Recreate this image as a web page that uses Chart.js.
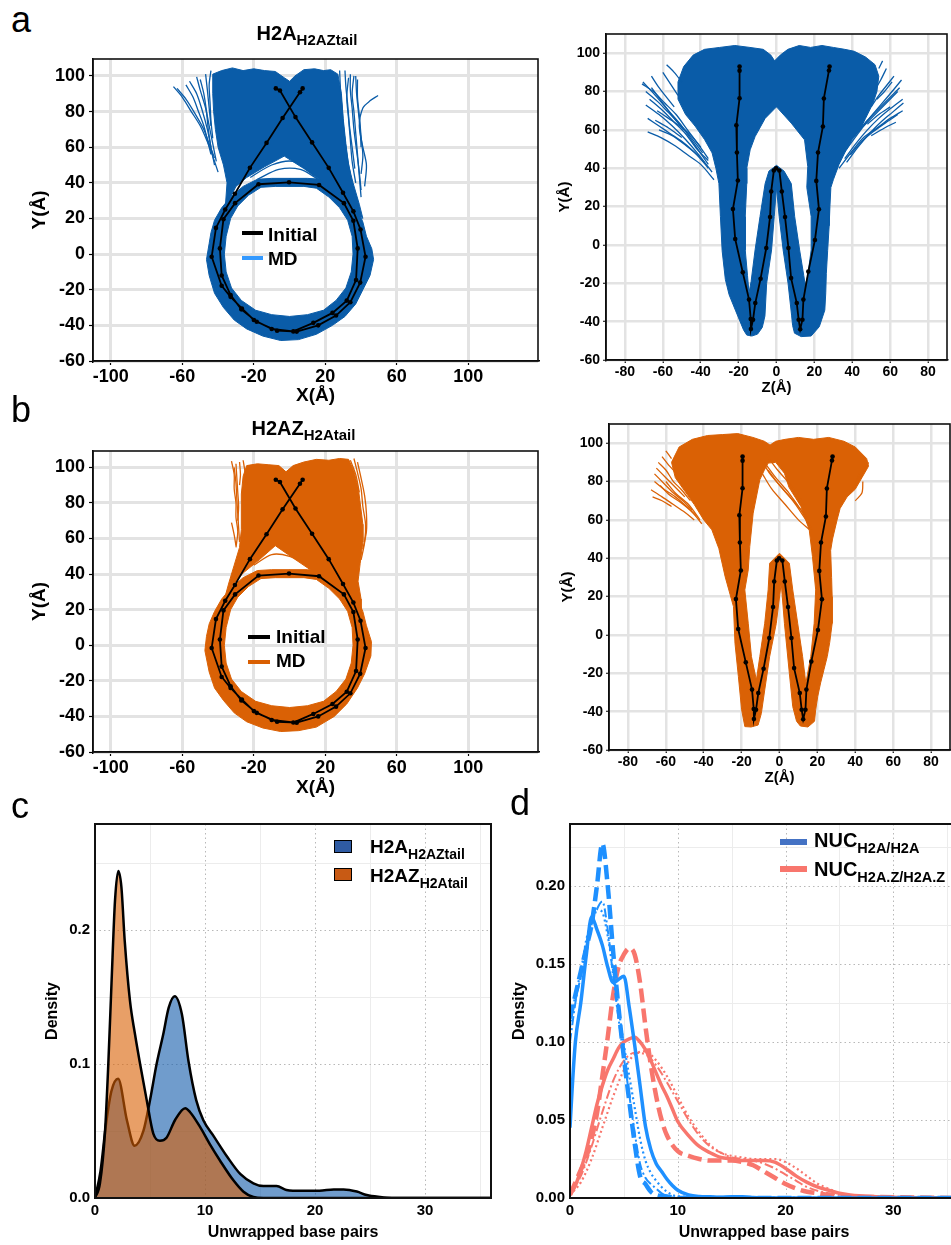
<!DOCTYPE html>
<html><head><meta charset="utf-8"><title>Nucleosome DNA trajectories and unwrapping</title>
<script src="https://cdn.jsdelivr.net/npm/chart.js@4.4.1/dist/chart.umd.min.js"></script>
<style>
html,body{margin:0;padding:0;background:#fff;}
body{position:relative;width:951px;height:1245px;overflow:hidden;font-family:'Liberation Sans',Arial,sans-serif;}
canvas{position:absolute;}
.t{position:absolute;white-space:nowrap;font-weight:bold;color:#000;line-height:1;}
.t .s{position:relative;}
.pl{position:absolute;font-family:'Liberation Sans',Arial,sans-serif;font-size:36px;line-height:1;color:#000;}
.ln{position:absolute;}
.pt{position:absolute;border:1.5px solid #000;box-sizing:border-box;}
</style></head><body>
<div class="pl" style="left:11px;top:2px">a</div>
<div class="pl" style="left:11px;top:392px">b</div>
<div class="pl" style="left:11px;top:788px">c</div>
<div class="pl" style="left:510px;top:785px">d</div>

<div class="t" style="left:0;width:614px;text-align:center;top:23px;font-size:20px">H2A<span class="s" style="font-size:15px;top:5px">H2AZtail</span></div>
<div class="t" style="left:0;width:607px;text-align:center;top:418px;font-size:20px">H2AZ<span class="s" style="font-size:15px;top:5px">H2Atail</span></div>

<div class="ln" style="left:242px;top:231px;width:21px;height:4px;background:#000"></div>
<div class="t" style="left:268px;top:225px;font-size:19px">Initial</div>
<div class="ln" style="left:242px;top:256px;width:21px;height:4px;background:#3399ff"></div>
<div class="t" style="left:268px;top:249px;font-size:19px">MD</div>

<div class="ln" style="left:248px;top:635px;width:22px;height:4px;background:#000"></div>
<div class="t" style="left:276px;top:627px;font-size:19px">Initial</div>
<div class="ln" style="left:248px;top:660px;width:22px;height:4px;background:#d95f02"></div>
<div class="t" style="left:276px;top:651px;font-size:19px">MD</div>

<div class="pt" style="left:334px;top:840px;width:18px;height:13px;background:#2f5ba3"></div>
<div class="t" style="left:370px;top:837px;font-size:19px">H2A<span class="s" style="font-size:14px;top:6px">H2AZtail</span></div>
<div class="pt" style="left:334px;top:868px;width:18px;height:13px;background:#c85a14"></div>
<div class="t" style="left:370px;top:866px;font-size:19px">H2AZ<span class="s" style="font-size:14px;top:6px">H2Atail</span></div>

<div class="ln" style="left:780px;top:839px;width:27px;height:6px;background:#4472c4"></div>
<div class="t" style="left:814px;top:830px;font-size:20px">NUC<span class="s" style="font-size:14.5px;top:6px">H2A/H2A</span></div>
<div class="ln" style="left:780px;top:866px;width:27px;height:6px;background:#f8766d"></div>
<div class="t" style="left:814px;top:859px;font-size:20px">NUC<span class="s" style="font-size:14.5px;top:6px">H2A.Z/H2A.Z</span></div>

<script>
// ---------------- tick labels ----------------
const xyXTicks = [-100,-60,-20,20,60,100];
const xyYTicks = [-60,-40,-20,0,20,40,60,80,100];
const zyXTicks = [-80,-60,-40,-20,0,20,40,60,80];
const zyYTicks = [-60,-40,-20,0,20,40,60,80,100];
const cXTicks = [0,10,20,30];
const cYTicks = [0,0.1,0.2];
const dXTicks = [0,10,20,30];
const dYTicks = [0,0.05,0.1,0.15,0.2];
const cdXMinor = [5,15,25,35];
const cYMinor = [0.05,0.15,0.25];
const dYMinor = [0.025,0.075,0.125,0.175,0.225];

// ---------------- initial DNA path (X,Y) and (Z,Y) ----------------
const initialXY = [[-7.7,93],[-5.4,91.8],[3.3,76.9],[12.6,62.7],[21.9,48.4],[29.9,34.4],[35.7,24],[39.7,13.8],[42.5,-1.5],[39.5,-16],[34,-27],[26,-34.5],[16,-40],[4,-43.5],[-7,-43],[-18.4,-38],[-27,-31],[-33,-23],[-38,-12],[-39,3.2],[-37,19.6],[-30.5,28.6],[-17.4,39.2],[-0.3,40.3],[16.5,38.8],[30.4,28.6],[35.7,18.7],[38.1,3.2],[37.2,-14.5],[32,-26.1],[24,-33],[13.3,-38.6],[2.1,-43.4],[-10,-42],[-20,-37],[-26.7,-30.5],[-33,-24],[-38,-17.8],[-43.6,-1.5],[-41.2,14.7],[-36,25],[-30.6,33.9],[-22.2,48.4],[-12.9,62.4],[-3.9,76.4],[5.8,90.8],[7.3,93]];
const initialZY = [[-19.5,93],[-19.5,90.9],[-19.5,76.5],[-21.2,62.4],[-20.9,48.2],[-20.4,33.6],[-23,18.7],[-21.8,3.1],[-17.8,-14.3],[-14.5,-28.5],[-13.6,-38.6],[-13.5,-43.8],[-12.4,-39],[-11.2,-30.3],[-8.4,-17.6],[-5.4,-1.6],[-3.4,14.6],[-2.8,27.9],[-1.4,38.8],[-0.2,40],[1.5,38.8],[2.8,27.9],[4.5,14.6],[6.3,-1.6],[7.7,-17.3],[10.7,-30.3],[11.7,-39],[12.5,-44],[13.7,-39],[14.2,-28.5],[16.8,-13.9],[20.3,2.6],[22.4,18.6],[21,33.4],[21.9,48.2],[24.5,61.8],[25,76.4],[27.7,91],[28,93]];

// ---------------- MD envelopes, panel a (H2A_H2AZtail) ----------------
const ringA_XY = [[0,42.5],[10,42.5],[18,42],[26,38],[33,32],[38,25],[41,18],[43,10],[46,3],[47,-3],[45,-12],[41,-20],[37,-28],[31,-35],[24,-40],[15,-45],[5,-48],[-5,-48.5],[-15,-46],[-24,-42],[-31,-37],[-37,-30],[-42,-22],[-45,-12],[-46.5,-3],[-45,6],[-44,12],[-42,19],[-38,26],[-33,32],[-26,38],[-18,42],[-10,42.5],[0,42.5],[0,38],[-8,38],[-16,37.5],[-23,33],[-29,27],[-33,20],[-35.5,10],[-36.5,0],[-35.5,-10],[-32.5,-19],[-27,-26],[-19,-31.5],[-10,-34],[0,-35],[10,-34],[19,-31.5],[26,-26],[31.5,-19],[34.5,-10],[35.5,0],[35,10],[32.5,19],[28,26],[22,32],[15,37],[8,38],[0,38]];
const fanA_XY = [[-36,26],[-35,40],[-37,50],[-40,60],[-41.5,70],[-42.5,80],[-43,90],[-43,101],[-38,103],[-32,104.5],[-26,103],[-20,104],[-14,103],[-8,102.5],[-3,99],[0,97],[3,100],[8,103.5],[14,104],[19,103],[23,103.5],[27,101],[29,90],[30,76],[31.5,62],[33,50],[35.5,40],[39,28],[41,20],[33,28],[25,35],[18,41],[8,48],[-3,55],[-14,49],[-24,43],[-30,38],[-33,32]];
const wispsA_XY = [
  [[-65,94],[-60,88],[-55,80],[-50,72],[-46,63],[-43,55],[-40,46]],
  [[-63,93],[-58,87],[-53,79],[-48,70],[-45,62],[-42,54]],
  [[-52,99.5],[-50,92],[-47,82],[-45,72],[-43,62],[-41,52]],
  [[-56,97],[-52,90],[-49,81],[-46,70],[-44,60]],
  [[-47,101],[-46,92],[-45,82],[-44,72]],
  [[-44,103],[-45,95],[-44.5,85],[-44,75],[-43,65]],
  [[-50,98],[-48,90],[-46.5,80],[-45.5,70],[-44,60],[-42,50]],
  [[-58,95],[-54,88],[-51,80],[-48,72],[-46,64],[-44,56]],
  [[28,103],[28.5,92],[29.5,80],[30.5,68],[32,56],[34,45]],
  [[31,103],[31.5,94],[32.5,84],[33.5,72],[35,60],[36.5,48]],
  [[34,101],[34,92],[35,82],[36,70],[37.5,58],[39,46],[40,36]],
  [[37,100],[37.5,90],[38.5,80],[39.5,70],[40,60]],
  [[33,99],[32,88],[33,76],[34,64],[35,52],[37,40]],
  [[36,100],[35,90],[36,80],[37,68],[38,56],[39,44],[40,32]],
  [[38,98],[38,88],[39,78],[40,66],[41,55],[40,45]],
  [[49.5,89],[45,86],[41,82],[39,72],[41,60],[43,50],[42,38]],
  [[-22,43],[-10,50],[2,52],[14,44]],
  [[-18,42],[-6,47.5],[6,47.5],[16,42]]
];

// ---------------- MD envelopes, panel b (H2AZ_H2Atail) ----------------
const ringB_XY = [[0,42.5],[10,42.5],[18,42],[26,38],[33,32],[38,26],[41,19],[43,11],[45.8,2],[45.5,-6],[42,-16],[38,-24],[32,-33],[25,-40],[15,-46],[5,-48],[-5,-48.5],[-15,-46.5],[-24,-43],[-31,-38],[-37,-31],[-42,-24],[-45,-15],[-47.4,-3],[-46.5,5],[-45,12],[-42,19],[-38,26],[-33,32],[-26,38],[-18,42],[-10,42.5],[0,42.5],[0,38],[-8,38],[-16,37.5],[-23,33],[-29,27],[-33,20],[-35.5,10],[-36.5,0],[-35.5,-10],[-32.5,-19],[-27,-26],[-19,-31.5],[-10,-34],[0,-35],[10,-34],[19,-31.5],[26,-26],[31.5,-19],[34.5,-10],[35.5,0],[35,10],[32.5,19],[28,26],[22,32],[15,37],[8,38],[0,38]];
const fanB_XY = [[-37,24],[-34,35],[-31,45],[-28,55],[-27,65],[-27,75],[-27,85],[-26,95],[-24,101],[-18,102],[-12,101.5],[-6,101],[-2,97.5],[2,101],[8,103],[15,104.5],[22,104],[28,105],[33,104.5],[36,98],[38.5,88],[39.5,80],[41,68],[41,58],[39.5,46],[38.3,36],[40,26],[40,20],[33,28],[24,35],[13,41.5],[2,49],[-8,56],[-17,48],[-26,40.6],[-31,35]];
const wispsB_XY = [
  [[-32.5,103.5],[-31,96],[-31,88],[-30,80],[-30,72],[-29,64],[-30,55]],
  [[-30,102],[-29.5,94],[-29,86],[-28.5,78],[-29,70]],
  [[-28,103],[-27.5,96],[-28,90]],
  [[-26,104],[-25,98],[-24,90]],
  [[-31,100],[-30,91],[-29.5,82],[-29,74],[-28.5,66],[-28,58]],
  [[-32.5,69],[-31,62],[-30,56]],
  [[36,105],[38,97],[40,88],[41,78],[42.5,68],[42,58],[40,48]],
  [[38,103],[40,94],[42,84],[43,74],[43,64],[41,54]],
  [[34,104],[37,96],[39,86]],
  [[-20,45],[-10,51],[0,50],[10,45]]
];

// ---------------- MD envelopes in the Z-Y plane ----------------
const bodyA_ZY = [[-1,96],[2,99],[6,102],[12,104],[18,103],[24,104],[30,103],[36,102],[41,101],[47,98],[52,94],[54,88],[53,80],[51,74],[47,66],[44,60],[40,55],[36,48],[33,42],[30,34],[28.7,30],[28.2,20],[27.8,10],[27,-3],[26.3,-15],[26,-25],[25.5,-34],[22.6,-42.6],[18.3,-47.5],[13,-47.8],[9.5,-46],[8.5,-42],[8,-37],[6.1,-20],[3.5,-2.6],[1.4,14.8],[0,30],[-1.2,14.8],[-2.6,-2.6],[-5.2,-20],[-6.1,-37],[-7.5,-43],[-10,-46.5],[-13,-47.5],[-15.7,-47],[-17.4,-44.3],[-21.7,-34],[-25,-26],[-27,-18],[-28.7,-3],[-29.6,14.8],[-30.4,32],[-32,40],[-34,48],[-38,55],[-43,62],[-48,68],[-52,76],[-52,85],[-49,93],[-44,99],[-38,102],[-30,103],[-22,104],[-14,103],[-7,102],[-3,99],[-1,96],
  [0,72],[-6,66],[-11.3,56.5],[-13.9,49.6],[-15.7,40],[-15.7,32],[-16.5,14.8],[-16.5,-2.6],[-15.3,-16],[-14.5,-25],[-13.4,-19],[-11.3,-2.6],[-8.7,14.8],[-6,32],[-4,38.5],[0,41.5],[4,38.5],[7.8,32],[9.6,14.8],[12.2,-2.6],[14.4,-16],[15.2,-21],[16.5,-16],[18.3,-2.6],[18.3,14.8],[16,30],[16.5,40.9],[14.8,54.8],[7.8,63.5],[0,72]];
const wispsA_ZY = [
  [[-70.5,85],[-64,78],[-57,70],[-50,62],[-43,52],[-36,42]],
  [[-69,73],[-62,68],[-55,62],[-48,55],[-41,47],[-34,38]],
  [[-68,59],[-61,56],[-54,52],[-47,47],[-40,42],[-33,34]],
  [[-66,82],[-60,74],[-54,66],[-49,60]],
  [[-64,65],[-57,61],[-50,56]],
  [[-60,90],[-56,84],[-52,78]],
  [[-58,94],[-54,90],[-50,85]],
  [[-67,76],[-60,70],[-54,64],[-48,58],[-42,50],[-36,44]],
  [[-62,60],[-55,57],[-48,52],[-42,47],[-36,40]],
  [[-71,84],[-65,80],[-59,74],[-53,68],[-47,60],[-41,52],[-36,45]],
  [[-69,80],[-63,75],[-57,69],[-51,63],[-45,56],[-39,48]],
  [[-68,66],[-62,62],[-56,58],[-50,54],[-44,49],[-38,43]],
  [[-66,88],[-62,82],[-58,77],[-54,72]],
  [[-63,70],[-57,66],[-51,62],[-45,57],[-40,51]],
  [[66,86],[61,80],[55,73],[49,66],[43,58],[37,50]],
  [[66.6,76],[60,71],[54,66],[48,60],[42,53],[36,45]],
  [[66.6,70],[60,66],[53,61],[46,56],[40,49],[33,40]],
  [[63,64],[57,61],[50,57]],
  [[61,85],[57,80],[53,76]],
  [[58,92],[55,86],[52,81]],
  [[64,80],[58,74],[52,68],[46,62],[40,56]],
  [[60,72],[54,68],[48,63]],
  [[56,96],[54,92]],
  [[67,74],[61,69],[55,64],[49,58],[43,51],[37,43]],
  [[65,82],[60,77],[54,71],[48,65],[42,58]],
  [[62,88],[58,83],[54,78],[50,72]],
  [[64,68],[58,64],[51,59],[45,54],[39,47]]
];
const bodyB_ZY = [[-5,99],[-2,101],[3,102],[10,103],[18,102],[26,103],[34,101],[40,98],[46,92],[47,88],[43.5,82],[40,76],[35.7,72],[32,66],[30.4,60],[28,50],[27,44],[27.5,30],[27.8,20],[27.8,6],[26.5,-4],[25.2,-11.3],[23.5,-18],[21.7,-25],[20.2,-32],[19.1,-39],[18.5,-45],[15,-48],[11,-47.5],[9,-45],[7,-37.4],[5.2,-20],[2.6,6],[0.9,27],[-1.7,6],[-5.2,-11.3],[-7.8,-28.7],[-9.6,-41],[-11.3,-47],[-15,-48],[-18.3,-47.8],[-20,-39],[-21.7,-21.7],[-23.5,-4.3],[-24.3,14.8],[-28.7,30.4],[-32,45],[-35.7,54.8],[-40,60],[-45,68],[-50,75],[-55,82],[-57,90],[-53,98],[-46,102],[-38,104],[-30,104.5],[-22,105],[-14,103],[-8,101],[-5,99],
  [-6,89.6],[-8,86],[-10.4,80.9],[-13.9,63.5],[-15.7,46],[-16.5,33.9],[-18.3,23.5],[-16.5,6.1],[-14.8,-11.3],[-12.2,-23.5],[-10.4,-11.3],[-7.8,6.1],[-6,23.5],[-5.2,37.4],[0,42.6],[5.2,37.4],[7,23.5],[9.6,6.1],[12.2,-11.3],[13.9,-25.2],[16.5,-11.3],[18.3,6.1],[19.1,23.5],[17.4,40.9],[15.7,54.8],[11.3,67],[5,77],[2.6,84.3],[-2,90],[-6,89.6]];
const wispsB_ZY = [
  [[-67.8,75.7],[-62,72],[-56,68],[-50,64],[-45,60]],
  [[-65,87],[-60,82],[-55,77],[-50,72]],
  [[-62,93],[-58,88],[-54,84]],
  [[-60,80],[-55,74],[-48,68],[-42,60]],
  [[-64,90],[-60,86],[-56,80],[-52,76],[-47,70]],
  [[-66,80],[-61,76],[-55,72],[-49,67],[-44,62]],
  [[-60,96],[-57,92]],
  [[-66,84],[-61,79],[-56,74],[-51,70],[-46,65]],
  [[-63,78],[-58,73],[-52,69],[-46,64],[-41,58]],
  [[-67,72],[-62,70],[-57,67]],
  [[-8,90],[-2,82],[5,74],[12,64],[16,56]],
  [[-6,86],[0,78],[7,70],[14,60]],
  [[-9,84],[-4,76],[3,68],[10,60],[15.7,55]],
  [[-10,92],[-5,84],[2,76],[9,68],[14,62],[17,55]],
  [[-7,94],[-1,86],[6,78],[13,68]],
  [[46,91],[44,86],[41,80],[37,74]],
  [[44,80],[43.5,74],[40,70]],
  [[47,90],[45,86],[43,82]],
  [[42,84],[40,78],[37,74]]
];

// ---------------- panel c: density of unwrapped base pairs ----------------
const cH2A_x = [0,0.5,1,1.5,2.1,2.9,3.6,4.4,5,5.6,6.2,6.7,7.25,7.9,8.5,9.2,9.85,10.8,12,13.2,14.4,15.3,16.5,17.4,18,19.2,20.4,21.7,22.6,23.8,24.7,25.9,27,28,36];
const cH2A_y = [0,0.02,0.055,0.08,0.089,0.058,0.039,0.05,0.073,0.1,0.122,0.142,0.1505,0.137,0.102,0.073,0.058,0.046,0.031,0.018,0.011,0.009,0.0089,0.006,0.0055,0.0055,0.0055,0.0064,0.0064,0.0048,0.0022,0.0007,0,0,0];
const cH2AZ_x = [0,0.45,0.9,1.2,1.5,1.82,2.12,2.4,2.7,3.18,3.64,4.1,4.7,5.3,5.9,6.5,7.27,8.2,8.65,9.55,10.45,11.36,12.6,13.5,14.4,15.3,36];
const cH2AZ_y = [0,0.011,0.048,0.098,0.16,0.222,0.244,0.232,0.192,0.147,0.122,0.1,0.073,0.048,0.0427,0.045,0.058,0.067,0.064,0.053,0.04,0.028,0.013,0.0047,0.0007,0,0];

// ---------------- panel d: four replicas per system ----------------
const dBlueSolid_x = [0,0.2,0.5,1,1.5,2,2.5,3,3.5,4,4.5,5,5.5,6,6.5,7,7.5,8,8.5,9,9.5,10,11,12,13,14,15,16,17,18,20,25,36];
const dBlueSolid_y = [0.045,0.07,0.1,0.125,0.155,0.18,0.172,0.162,0.148,0.138,0.14,0.142,0.122,0.098,0.072,0.046,0.031,0.022,0.017,0.012,0.008,0.005,0.002,0.001,0.0008,0.0005,0.0008,0.0008,0.0003,0.0001,0,0,0];
const dBlueDash_x = [0,0.5,1,1.5,2,2.5,3,3.5,4,4.5,5,5.5,6,6.5,7,7.5,8,9,10,36];
const dBlueDash_y = [0.115,0.13,0.145,0.16,0.175,0.2,0.227,0.2,0.158,0.122,0.09,0.062,0.035,0.014,0.009,0.004,0.002,0.001,0,0];
const dBlueDashDot_x = [0,0.5,1,1.5,2,2.5,3,3.5,4,4.5,5,5.5,6,6.5,7,7.5,8,8.5,9,10,36];
const dBlueDashDot_y = [0.1,0.125,0.142,0.16,0.175,0.185,0.19,0.172,0.142,0.115,0.09,0.066,0.042,0.022,0.013,0.009,0.006,0.003,0.001,0,0];
const dBlueDot_x = [0,0.5,1,1.5,2,2.5,3,3.5,4,4.5,5,5.5,6,6.5,7,7.5,8,8.5,9,10,36];
const dBlueDot_y = [0.11,0.13,0.145,0.165,0.178,0.185,0.183,0.168,0.146,0.122,0.098,0.078,0.058,0.038,0.024,0.016,0.011,0.007,0.004,0.001,0];
const dRedSolid_x = [0,0.5,1,1.5,2,2.5,3,3.5,4,4.5,5,5.5,6,6.5,7,7.5,8,8.5,9,9.5,10,11,12,13,14,15,16,17,18,19,20,21,22,23,24,25,26,28,30,36];
const dRedSolid_y = [0.002,0.008,0.018,0.03,0.045,0.06,0.072,0.082,0.089,0.096,0.1,0.102,0.103,0.1,0.095,0.088,0.08,0.072,0.065,0.057,0.049,0.04,0.033,0.029,0.026,0.025,0.024,0.024,0.024,0.023,0.019,0.014,0.01,0.007,0.005,0.003,0.002,0.001,0.0005,0];
const dRedDash_x = [0,0.5,1,1.5,2,2.5,3,3.5,4,4.5,5,5.5,6,6.5,7,7.5,8,8.5,9,10,11,12,13,14,15,16,17,18,19,20,21,22,23,24,26,30,36];
const dRedDash_y = [0.002,0.01,0.018,0.026,0.038,0.054,0.078,0.103,0.13,0.148,0.156,0.16,0.156,0.138,0.11,0.085,0.065,0.05,0.04,0.03,0.027,0.025,0.024,0.024,0.024,0.023,0.021,0.017,0.013,0.009,0.006,0.004,0.003,0.002,0.001,0.0005,0];
const dRedDashDot_x = [0,1,2,3,4,5,6,7,8,9,10,11,12,13,14,15,16,17,18,19,20,21,22,24,26,30,36];
const dRedDashDot_y = [0.003,0.014,0.033,0.055,0.075,0.088,0.093,0.092,0.085,0.074,0.062,0.05,0.04,0.033,0.029,0.026,0.025,0.024,0.022,0.019,0.015,0.011,0.007,0.003,0.0015,0.0005,0];
const dRedDot_x = [0,1,2,3,4,5,5.5,6,7,8,9,10,11,12,13,14,15,16,17,18,19,20,21,22,23,24,25,27,30,36];
const dRedDot_y = [0.002,0.01,0.025,0.045,0.065,0.082,0.088,0.092,0.094,0.088,0.078,0.065,0.052,0.042,0.034,0.029,0.027,0.026,0.025,0.025,0.025,0.023,0.019,0.014,0.009,0.006,0.003,0.001,0.0004,0];

// ---------------- helpers ----------------
const FONT = "'Liberation Sans', Arial, sans-serif";
Chart.defaults.font.family = FONT;
Chart.defaults.color = '#000';
const pts = a => a.map(p => ({x:p[0], y:p[1]}));
const zip = (xs, ys) => xs.map((x,i) => ({x, y:ys[i]}));

function mkCanvas(plot, m){
  const c = document.createElement('canvas');
  const x = plot.l - m.l, y = plot.t - m.t;
  const w = (plot.r - plot.l) + m.l + m.r, h = (plot.b - plot.t) + m.t + m.b;
  c.width = w; c.height = h;
  c.style.left = x + 'px'; c.style.top = y + 'px';
  c.style.width = w + 'px'; c.style.height = h + 'px';
  document.body.insertBefore(c, document.body.firstChild);
  return c;
}

const framePlugin = {
  id:'frame',
  afterDatasetsDraw(chart, args, o){
    const a = chart.chartArea, ctx = chart.ctx;
    ctx.save(); ctx.strokeStyle = '#111'; ctx.lineWidth = o.w || 1.5;
    ctx.strokeRect(a.left, a.top, a.right - a.left, a.bottom - a.top);
    ctx.restore();
  }
};
const cdGridPlugin = {
  id:'cdgrid',
  beforeDatasetsDraw(chart, args, o){
    const a = chart.chartArea, ctx = chart.ctx, sx = chart.scales.x, sy = chart.scales.y;
    ctx.save();
    ctx.lineWidth = 1; ctx.strokeStyle = '#ececec'; ctx.setLineDash([]);
    o.xMinor.forEach(v => { const p = Math.round(sx.getPixelForValue(v)) + 0.5; if (p > a.left && p < a.right) { ctx.beginPath(); ctx.moveTo(p, a.top); ctx.lineTo(p, a.bottom); ctx.stroke(); }});
    o.yMinor.forEach(v => { const p = Math.round(sy.getPixelForValue(v)) + 0.5; if (p > a.top && p < a.bottom) { ctx.beginPath(); ctx.moveTo(a.left, p); ctx.lineTo(a.right, p); ctx.stroke(); }});
    ctx.strokeStyle = '#b8b8b8'; ctx.setLineDash([1.5, 3]);
    o.xMajor.forEach(v => { const p = Math.round(sx.getPixelForValue(v)) + 0.5; if (p > a.left + 1 && p < a.right) { ctx.beginPath(); ctx.moveTo(p, a.top); ctx.lineTo(p, a.bottom); ctx.stroke(); }});
    o.yMajor.forEach(v => { const p = Math.round(sy.getPixelForValue(v)) + 0.5; if (p > a.top && p < a.bottom - 1) { ctx.beginPath(); ctx.moveTo(a.left, p); ctx.lineTo(a.right, p); ctx.stroke(); }});
    ctx.restore();
  }
};

function trajChart(plot, m, c){
  const cv = mkCanvas(plot, m);
  const ds = [];
  ds.push({data: pts(c.init), showLine:true, borderColor:'#000', borderWidth:1.8, pointRadius:2.3, pointBackgroundColor:'#000', pointBorderWidth:0, fill:false, tension:0, order:0});
  c.wisps.forEach(w => ds.push({data: pts(w), showLine:true, borderColor:c.color, borderWidth:1.3, pointRadius:0, fill:false, tension:0.3, order:1}));
  c.polys.forEach(pg => ds.push({data: pts(pg), showLine:true, borderColor:c.color, borderWidth:1, backgroundColor:c.color, fill:'shape', pointRadius:0, tension:0, order:2}));
  new Chart(cv, {
    type:'scatter',
    data:{datasets: ds},
    plugins:[framePlugin],
    options:{
      responsive:false, animation:false, events:[],
      layout:{padding:{left:0, top:m.t, right:m.r, bottom:0}},
      plugins:{legend:{display:false}, tooltip:{enabled:false}, frame:{w:1.6}},
      scales:{
        x:{type:'linear', min:c.xr[0], max:c.xr[1],
           afterBuildTicks: s => { s.ticks = c.xt.map(v => ({value:v})); },
           afterFit: s => { s.height = m.b; },
           grid:{color:'#e3e3e3', lineWidth:c.gw, tickColor:'#000', tickLength:c.tl, tickWidth:1.2},
           border:{display:true, color:'#000', width:1.5},
           ticks:{font:{size:c.tf, weight:'bold'}, color:'#000', padding:c.xpad, maxRotation:0, autoSkip:false},
           title:{display:true, text:c.xTitle, color:'#000', font:{size:c.ttf, weight:'bold'}, padding:{top:0, bottom:c.xtp}}},
        y:{type:'linear', min:c.yr[0], max:c.yr[1],
           afterBuildTicks: s => { s.ticks = c.yt.map(v => ({value:v})); },
           afterFit: s => { s.width = m.l; },
           grid:{color:'#e3e3e3', lineWidth:c.gw, tickColor:'#000', tickLength:c.tl, tickWidth:1.2},
           border:{display:true, color:'#000', width:1.5},
           ticks:{font:{size:c.tf, weight:'bold'}, color:'#000', padding:c.ypad, autoSkip:false},
           title:{display:true, text:'Y(Å)', color:'#000', font:{size:c.ttf, weight:'bold'}, padding:{top:c.ytp, bottom:0}}}
      }
    }
  });
}

function densChart(plot, m, c){
  const cv = mkCanvas(plot, m);
  new Chart(cv, {
    type:'scatter',
    data:{datasets: c.datasets},
    plugins:[cdGridPlugin, framePlugin],
    options:{
      responsive:false, animation:false, events:[],
      layout:{padding:{left:0, top:m.t, right:m.r, bottom:0}},
      plugins:{legend:{display:false}, tooltip:{enabled:false}, frame:{w:2},
        cdgrid:{xMajor:c.xt, yMajor:c.yt, xMinor:c.xMinor, yMinor:c.yMinor}},
      scales:{
        x:{type:'linear', min:c.xr[0], max:c.xr[1],
           afterBuildTicks: s => { s.ticks = c.xt.map(v => ({value:v})); },
           afterFit: s => { s.height = m.b; },
           grid:{display:false, drawTicks:false, tickLength:0}, border:{display:true, color:'#000', width:2},
           ticks:{font:{size:15, weight:'bold'}, color:'#000', padding:4, maxRotation:0, autoSkip:false},
           title:{display:true, text:'Unwrapped base pairs', color:'#000', font:{size:16, weight:'bold'}, padding:{top:0, bottom:2.4}}},
        y:{type:'linear', min:c.yr[0], max:c.yr[1],
           afterBuildTicks: s => { s.ticks = c.yt.map(v => ({value:v})); },
           afterFit: s => { s.width = m.l; },
           grid:{display:false, drawTicks:false, tickLength:0}, border:{display:true, color:'#000', width:2},
           ticks:{font:{size:15, weight:'bold'}, color:'#000', padding:5, autoSkip:false, callback: v => Number(v).toFixed(c.dec)},
           title:{display:true, text:'Density', color:'#000', font:{size:16, weight:'bold'}, padding:{top:c.ytp, bottom:0}}}
      }
    }
  });
}

// ---------------- panel a ----------------
const colA = '#0a5ca8', colB = '#da6105';
trajChart({l:93,t:59,r:538,b:361}, {l:70,t:15,r:5,b:50},
  {init:initialXY, polys:[fanA_XY, ringA_XY], wisps:wispsA_XY, color:colA, xr:[-110,139], yr:[-60,109.5], xt:xyXTicks, yt:xyYTicks,
   gw:3, tl:4, tf:18, ttf:19, xpad:1, ypad:4, xTitle:'X(Å)', xtp:3.6, ytp:5.6});
trajChart({l:606,t:34,r:951,b:360}, {l:50,t:15,r:0,b:40},
  {init:initialZY, polys:[bodyA_ZY], wisps:wispsA_ZY, color:colA, xr:[-90,90], yr:[-60,110], xt:zyXTicks, yt:zyYTicks,
   gw:2.5, tl:3, tf:14, ttf:15, xpad:1, ypad:3, xTitle:'Z(Å)', xtp:3, ytp:0});
// ---------------- panel b ----------------
trajChart({l:93,t:451,r:538,b:752}, {l:70,t:15,r:5,b:50},
  {init:initialXY, polys:[fanB_XY, ringB_XY], wisps:wispsB_XY, color:colB, xr:[-110,139], yr:[-60,109.2], xt:xyXTicks, yt:xyYTicks,
   gw:3, tl:4, tf:18, ttf:19, xpad:1, ypad:4, xTitle:'X(Å)', xtp:2.6, ytp:5.6});
trajChart({l:609,t:424,r:954,b:750}, {l:50,t:15,r:0,b:40},
  {init:initialZY, polys:[bodyB_ZY], wisps:wispsB_ZY, color:colB, xr:[-90,90], yr:[-60,110], xt:zyXTicks, yt:zyYTicks,
   gw:2.5, tl:3, tf:14, ttf:15, xpad:1, ypad:3, xTitle:'Z(Å)', xtp:3, ytp:0});

// ---------------- panel c ----------------
densChart({l:95,t:823,r:491,b:1198}, {l:60,t:13,r:5,b:47}, {
  xr:[0,36], yr:[0,0.279], xt:cXTicks, yt:cYTicks, xMinor:cdXMinor, yMinor:cYMinor, dec:1, ytp:8.4,
  datasets:[
    {data: zip(cH2AZ_x, cH2AZ_y), showLine:true, fill:'origin', backgroundColor:'rgba(217,95,2,0.6)', borderColor:'#000', borderWidth:2.5, pointRadius:0, cubicInterpolationMode:'monotone', order:0},
    {data: zip(cH2A_x, cH2A_y), showLine:true, fill:'origin', backgroundColor:'rgba(16,90,170,0.6)', borderColor:'#000', borderWidth:2.5, pointRadius:0, cubicInterpolationMode:'monotone', order:1}
  ]});

// ---------------- panel d ----------------
const blueD = '#1e90ff', redD = '#f8766d';
const lineDs = (xs, ys, col, w, dash, ord) => ({data: zip(xs, ys), showLine:true, fill:false, borderColor:col, borderWidth:w, borderDash:dash, pointRadius:0, cubicInterpolationMode:'monotone', order:ord, borderCapStyle:'butt'});
densChart({l:570,t:823,r:958,b:1198}, {l:60,t:13,r:0,b:47}, {
  xr:[0,36], yr:[0,0.2396], xt:dXTicks, yt:dYTicks, xMinor:cdXMinor, yMinor:dYMinor, dec:2, ytp:0.4,
  datasets:[
    lineDs(dBlueSolid_x, dBlueSolid_y, blueD, 3.5, [], 0),
    lineDs(dBlueDash_x, dBlueDash_y, blueD, 4.5, [14,6], 1),
    lineDs(dBlueDashDot_x, dBlueDashDot_y, blueD, 2, [9,3,2,3], 2),
    lineDs(dBlueDot_x, dBlueDot_y, blueD, 2.2, [2,3], 3),
    lineDs(dRedSolid_x, dRedSolid_y, redD, 3.5, [], 4),
    lineDs(dRedDash_x, dRedDash_y, redD, 4.5, [14,6], 5),
    lineDs(dRedDashDot_x, dRedDashDot_y, redD, 2, [9,3,2,3], 6),
    lineDs(dRedDot_x, dRedDot_y, redD, 2.2, [2,3], 7)
  ]});
</script>
</body></html>
